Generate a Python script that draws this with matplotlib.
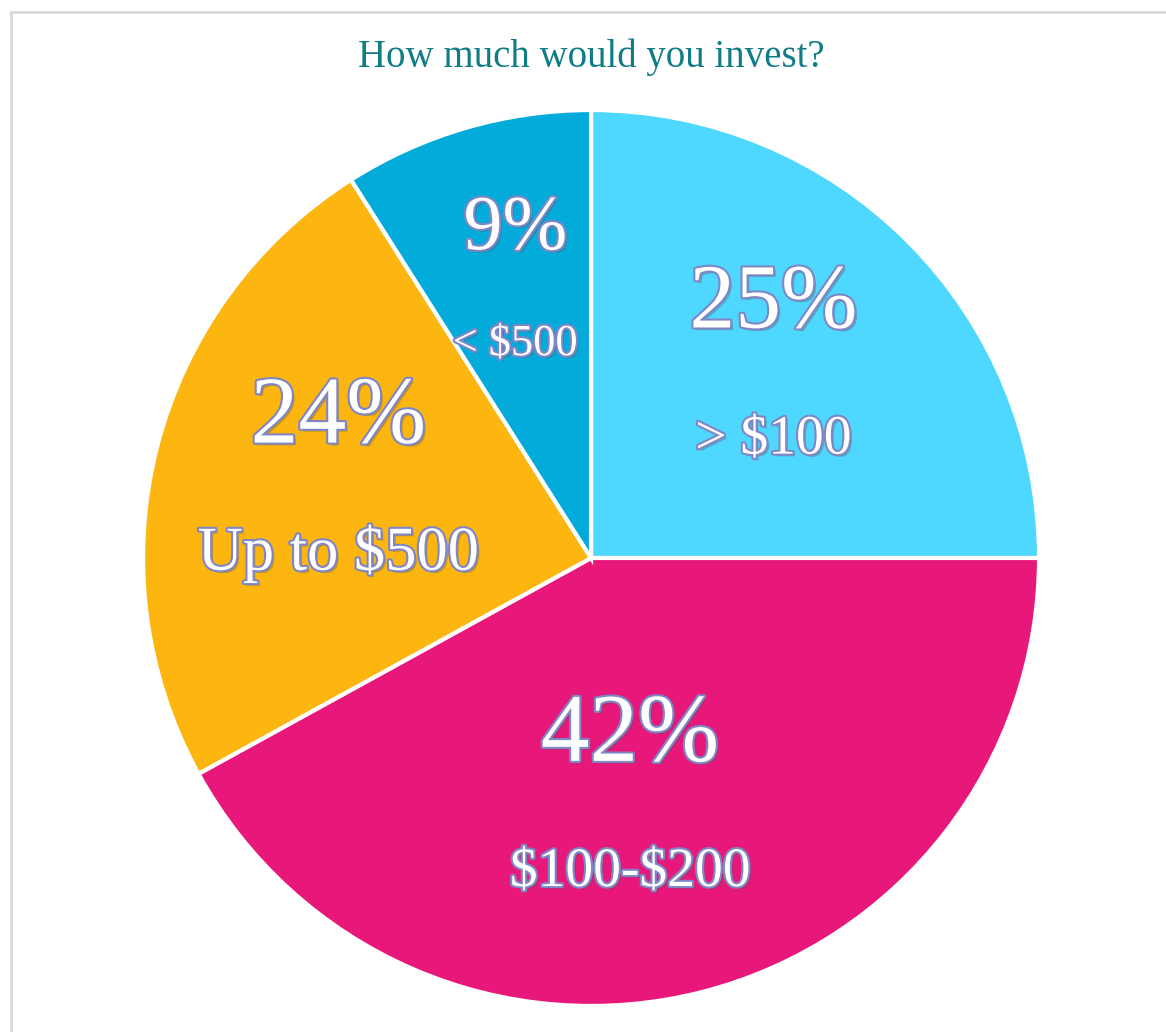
import numpy as np
import matplotlib
matplotlib.use("Agg")
from matplotlib import pyplot as plt
from matplotlib import patheffects as pe
from matplotlib.lines import Line2D

title = "How much would you invest?"
shares = [25, 42, 24, 9]
pct_labels = ["25%", "42%", "24%", "9%"]
range_labels = ["> $100", "$100-$200", "Up to $500", "< $500"]
colors = ["#4FD8FF", "#E8177A", "#FDB50F", "#03ABDB"]

pct_sizes = [66, 70, 69, 56]
range_sizes = [40, 40, 45, 32]

plt.rcParams['font.family'] = ['Liberation Serif', 'DejaVu Serif']

fig = plt.figure(figsize=(11.66, 10.32), dpi=100)
ax = fig.add_axes([0.1227, 0.0252, 0.7684, 0.8682])

wedges, _ = ax.pie(shares, colors=colors, startangle=90, counterclock=False,
                   radius=1.0, wedgeprops=dict(edgecolor="white", linewidth=3))
ax.set_xlim(-1, 1)
ax.set_ylim(-1, 1)
ax.set_aspect("equal")
ax.axis("off")

effects = [pe.withSimplePatchShadow(offset=(2, -2), shadow_rgbFace="#555555", alpha=0.35),
           pe.Stroke(linewidth=3, foreground="#7F86C6"),
           pe.Normal()]

# label group placement: distance from centre, angle nudge, half gap between lines
label_r = [0.59, 0.545, 0.59, 0.64]
nudge = [1.4, -5.2, -2.6, -0.9]
half_gap = [0.15, 0.15, 0.15, 0.127]
for i, w in enumerate(wedges):
    mid = np.deg2rad((w.theta1 + w.theta2) / 2 + nudge[i])
    x = label_r[i] * np.cos(mid)
    y = label_r[i] * np.sin(mid) - 0.013
    ax.text(x, y + half_gap[i], pct_labels[i], ha="center", va="center",
            fontsize=pct_sizes[i], color="white", path_effects=effects, parse_math=False)
    ax.text(x, y - half_gap[i], range_labels[i], ha="center", va="center",
            fontsize=range_sizes[i], color="white", path_effects=effects, parse_math=False)

fig.text(0.507, 1 - 57 / 1032, title, ha="center", va="center", fontsize=28, color="#0F7C86")

# chart frame, cropped at right and bottom
fig.add_artist(Line2D([11 / 1166, 11 / 1166], [0, 1 - 12 / 1032], color="#D9D9D9", lw=2))
fig.add_artist(Line2D([11 / 1166, 1], [1 - 12 / 1032, 1 - 12 / 1032], color="#D9D9D9", lw=2))

fig.savefig("out.png", dpi=100)
